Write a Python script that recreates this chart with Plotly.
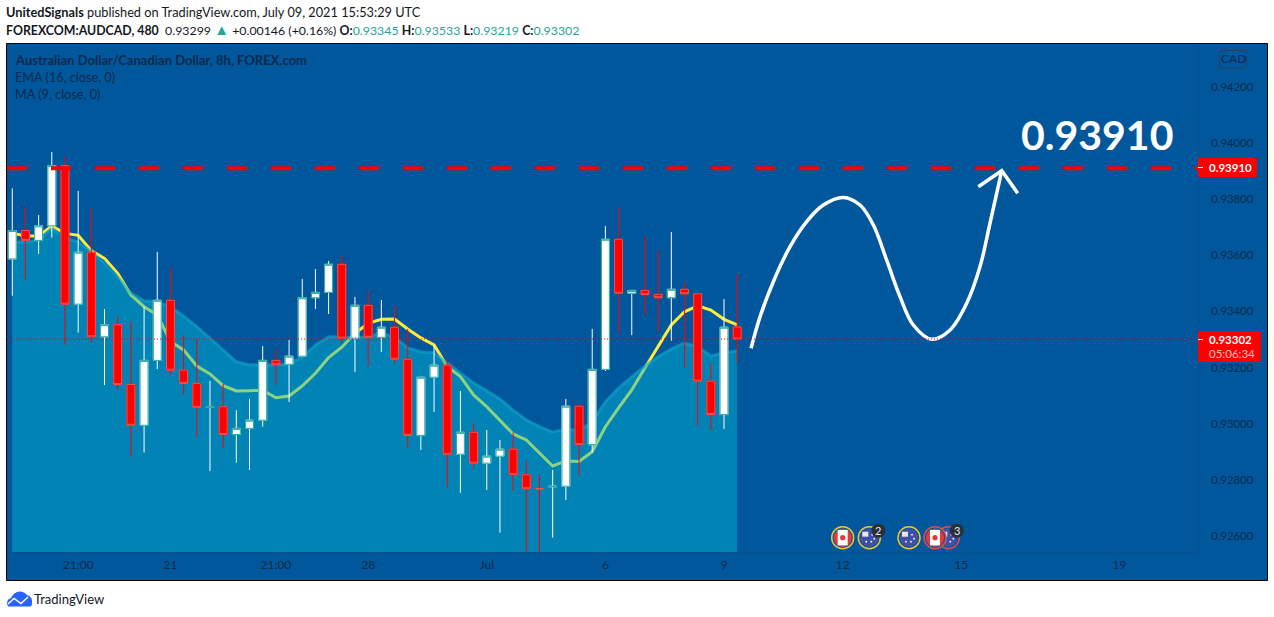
import plotly.graph_objects as go

WIDTH = 1274
HEIGHT = 617
BG_BLUE = '#00579b'
DARK_TEXT = '#0d2a4c'
FONT = 'Lato'

# 8h AUD/CAD candles
opens = [0.93587, 0.93688, 0.93653, 0.93705, 0.93919, 0.93426, 0.93611, 0.93310, 0.93353, 0.93140,
         0.92995, 0.93226, 0.93440, 0.93191, 0.93144, 0.93059, 0.93061, 0.92962, 0.92984, 0.93013,
         0.93226, 0.93212, 0.93241, 0.93449, 0.93468, 0.93568, 0.93305, 0.93422, 0.93308, 0.93344,
         0.93230, 0.92959, 0.93166, 0.93209, 0.92892, 0.92970, 0.92860, 0.92885, 0.92910, 0.92819,
         0.92770, 0.92776, 0.92778, 0.93063, 0.92926, 0.93194, 0.93657, 0.93465, 0.93475, 0.93461,
         0.93449, 0.93479, 0.93463, 0.93152, 0.93033, 0.93345]
highs = [0.93838, 0.93775, 0.93743, 0.93968, 0.93953, 0.93829, 0.93767, 0.93409, 0.93384, 0.93364,
         0.93417, 0.93612, 0.93556, 0.93316, 0.93301, 0.93153, 0.93142, 0.93049, 0.93089, 0.93277,
         0.93267, 0.93299, 0.93516, 0.93551, 0.93580, 0.93600, 0.93452, 0.93473, 0.93441, 0.93420,
         0.93338, 0.93166, 0.93281, 0.93227, 0.93117, 0.93002, 0.92978, 0.92943, 0.92969, 0.92868,
         0.92818, 0.92836, 0.93089, 0.93071, 0.93338, 0.93704, 0.93771, 0.93477, 0.93669, 0.93615,
         0.93683, 0.93506, 0.93466, 0.93216, 0.93444, 0.93533]
lows = [0.93456, 0.93515, 0.93605, 0.93663, 0.93281, 0.93325, 0.93289, 0.93138, 0.93123, 0.92883,
        0.92898, 0.93195, 0.93174, 0.93106, 0.92952, 0.92832, 0.92915, 0.92862, 0.92836, 0.92990,
        0.93138, 0.93078, 0.93239, 0.93409, 0.93391, 0.93284, 0.93185, 0.93206, 0.93256, 0.93216,
        0.92915, 0.92907, 0.93042, 0.92773, 0.92755, 0.92844, 0.92765, 0.92613, 0.92762, 0.92530,
        0.92530, 0.92595, 0.92729, 0.92818, 0.92898, 0.93188, 0.93322, 0.93316, 0.93388, 0.93328,
        0.93296, 0.93200, 0.92994, 0.92978, 0.92982, 0.93219]
closes = [0.93688, 0.93653, 0.93705, 0.93919, 0.93426, 0.93611, 0.93310, 0.93353, 0.93140, 0.92995,
          0.93226, 0.93440, 0.93191, 0.93144, 0.93059, 0.93061, 0.92962, 0.92984, 0.93013, 0.93226,
          0.93212, 0.93241, 0.93449, 0.93468, 0.93568, 0.93305, 0.93422, 0.93308, 0.93344, 0.93230,
          0.92959, 0.93166, 0.93209, 0.92892, 0.92970, 0.92860, 0.92885, 0.92910, 0.92819, 0.92769,
          0.92768, 0.92778, 0.93063, 0.92926, 0.93194, 0.93657, 0.93465, 0.93475, 0.93460, 0.93449,
          0.93479, 0.93463, 0.93152, 0.93033, 0.93344, 0.93302]
ema16 = [0.93647, 0.93647, 0.93654, 0.93697, 0.93662, 0.93648, 0.93613, 0.93573, 0.93524, 0.93466,
         0.93438, 0.93435, 0.93417, 0.93384, 0.93346, 0.93306, 0.93263, 0.93221, 0.93210, 0.93210,
         0.93210, 0.93213, 0.93239, 0.93281, 0.93310, 0.93309, 0.93306, 0.93310, 0.93323, 0.93310,
         0.93270, 0.93257, 0.93253, 0.93217, 0.93181, 0.93146, 0.93118, 0.93089, 0.93049, 0.93014,
         0.92990, 0.92971, 0.92982, 0.92976, 0.93008, 0.93079, 0.93128, 0.93168, 0.93206, 0.93239,
         0.93267, 0.93288, 0.93275, 0.93242, 0.93253, 0.93260]
ma9 = [0.93679, 0.93669, 0.93669, 0.93704, 0.93678, 0.93671, 0.93616, 0.93589, 0.93536, 0.93459,
       0.93417, 0.93388, 0.93293, 0.93263, 0.93206, 0.93178, 0.93136, 0.93117, 0.93118, 0.93120,
       0.93093, 0.93099, 0.93135, 0.93180, 0.93236, 0.93273, 0.93322, 0.93358, 0.93372, 0.93373,
       0.93338, 0.93306, 0.93281, 0.93204, 0.93168, 0.93103, 0.93061, 0.93014, 0.92964, 0.92943,
       0.92896, 0.92850, 0.92868, 0.92866, 0.92901, 0.92990, 0.93057, 0.93121, 0.93199, 0.93275,
       0.93352, 0.93399, 0.93420, 0.93405, 0.93372, 0.93352]
bars = list(range(len(closes)))

# hand drawn forecast path and its arrow head (bar number, price)
path_bars = [56.05, 56.73, 57.74, 59.01, 60.27, 61.53, 63.05, 64.32, 65.33, 66.34, 67.35, 68.36,
             69.76, 71.15, 72.41, 73.42, 74.18, 75.07]
path_prices = [0.93269, 0.93381, 0.93506, 0.93631, 0.93720, 0.93779, 0.93806, 0.93779, 0.93708,
               0.93583, 0.93453, 0.93352, 0.93301, 0.93334, 0.93429, 0.93559, 0.93714, 0.93901]
head_bars = [73.29, 75.07, 76.28]
head_prices = [0.93844, 0.93901, 0.93821]

target_price = 0.93910
last_price = 0.93302
price_range = [0.92544, 0.94352]
bar_range = [-0.40, 89.96]

price_ticks = [0.926, 0.928, 0.930, 0.932, 0.934, 0.936, 0.938, 0.940, 0.942]
time_tick_bars = [5, 12, 20, 27, 36, 45, 54, 63, 72, 84]
time_tick_labels = ['21:00', '21', '21:00', '28', 'Jul', '6', '9', '12', '15', '19']


def px(x):
    return x / WIDTH


def py(y):
    return 1 - y / HEIGHT


def box(x0, y0, x1, y1, fill, line=None, width=0):
    return dict(type='rect', xref='paper', yref='paper', x0=px(x0), x1=px(x1), y0=py(y0), y1=py(y1),
                fillcolor=fill, line=dict(color=line, width=width), layer='above')


def circle(cx, cy, r, fill, line=None, width=0):
    return dict(type='circle', xref='paper', yref='paper', x0=px(cx - r), x1=px(cx + r),
                y0=py(cy + r), y1=py(cy - r), fillcolor=fill,
                line=dict(color=line, width=width), layer='above')


def canada(cx, cy, ring):
    return [circle(cx, cy, 11, BG_BLUE, ring, 1.5),
            circle(cx, cy, 9.2, '#e5383b'),
            box(cx - 5, cy - 7.7, cx + 5, cy + 7.7, '#ffffff'),
            circle(cx, cy, 2.6, '#e5383b')]


def australia(cx, cy, ring):
    dots = [(3, -3), (5, 1), (2, 4), (-3, 4)]
    shapes = [circle(cx, cy, 11, BG_BLUE, ring, 1.5),
              circle(cx, cy, 9.2, '#3f51a5'),
              box(cx - 7, cy - 6, cx - 1, cy - 1, '#e9e3ee')]
    shapes += [circle(cx + dx, cy + dy, 0.9, '#ffffff') for dx, dy in dots]
    return shapes


def label(x, y, text, color=DARK_TEXT, size=13, anchor='left', font=FONT):
    return dict(xref='paper', yref='paper', x=px(x), y=py(y), text=text, showarrow=False,
                xanchor=anchor, yanchor='middle', align=anchor,
                font=dict(family=font, size=size, color=color))


fig = go.Figure()

# MA goes under the EMA area, the area tints it green where they overlap
fig.add_trace(go.Scatter(x=bars, y=ma9, mode='lines', line=dict(color='#ffeb3b', width=3)))
fig.add_trace(go.Scatter(x=bars, y=ema16, mode='lines', fill='tozeroy',
                         fillcolor='rgba(4,182,211,0.46)',
                         line=dict(color='rgba(20,170,205,0.55)', width=3)))

# wicks first, bodies on top with their own outline colour
fig.add_trace(go.Candlestick(x=bars, open=opens, high=highs, low=lows, close=closes,
                             xaxis='x2', yaxis='y2', whiskerwidth=0,
                             increasing=dict(line=dict(color='#ffffff', width=1), fillcolor='#ffffff'),
                             decreasing=dict(line=dict(color='#ff0000', width=1), fillcolor='#ff0000')))
fig.add_trace(go.Candlestick(x=bars, open=opens, close=closes,
                             high=[max(o, c) for o, c in zip(opens, closes)],
                             low=[min(o, c) for o, c in zip(opens, closes)],
                             xaxis='x2', yaxis='y2', whiskerwidth=0,
                             increasing=dict(line=dict(color='#26a69a', width=1), fillcolor='#ffffff'),
                             decreasing=dict(line=dict(color='#ef5350', width=1), fillcolor='#ff0000')))

fig.add_trace(go.Scatter(x=path_bars, y=path_prices, mode='lines', xaxis='x2', yaxis='y2',
                         line=dict(color='#ffffff', width=3.5, shape='spline', smoothing=1)))
fig.add_trace(go.Scatter(x=head_bars, y=head_prices, mode='lines', xaxis='x2', yaxis='y2',
                         line=dict(color='#ffffff', width=3.5)))

shapes = [
    # chart frame
    dict(type='rect', xref='paper', yref='paper', x0=px(6.5), x1=px(1267.5), y0=py(580.5), y1=py(43.5),
         fillcolor=BG_BLUE, line=dict(color='#000000', width=1), layer='below'),
    dict(type='line', xref='paper', yref='y', x0=px(7), x1=px(1198), y0=target_price, y1=target_price,
         line=dict(color='#ff0000', width=4, dash='20px,24px'), layer='above'),
    dict(type='line', xref='paper', yref='y', x0=px(7), x1=px(1198), y0=last_price, y1=last_price,
         line=dict(color='#ff0000', width=1, dash='1px,2px'), layer='above'),
    # price axis flags
    box(1198, 158, 1257, 177, '#ff0000'),
    box(1198, 331, 1261, 362, '#ff0000'),
    box(1198, 167, 1203, 168, '#ffffff'),
    box(1198, 339, 1203, 340, '#ffffff'),
    # currency button
    dict(type='path', xref='paper', yref='paper', layer='above',
         path='M {} {} L {} {} Q {} {} {} {} L {} {} Q {} {} {} {} L {} {} Q {} {} {} {} L {} {} Q {} {} {} {} Z'.format(
             px(1222), py(50.5), px(1244), py(50.5), px(1246.5), py(50.5), px(1246.5), py(53),
             px(1246.5), py(65.5), px(1246.5), py(68), px(1244), py(68),
             px(1222), py(68), px(1219.5), py(68), px(1219.5), py(65.5),
             px(1219.5), py(53), px(1219.5), py(50.5), px(1222), py(50.5)),
         line=dict(color='#2a3f5f', width=1)),
    # TradingView cloud
    dict(type='path', xref='paper', yref='paper', layer='above', fillcolor='#2962ff',
         path='M {} {} Q {} {} {} {} Q {} {} {} {} Q {} {} {} {} Q {} {} {} {} Q {} {} {} {} Z'.format(
             px(8), py(606.5), px(5), py(600), px(11), py(598), px(14), py(591), px(21), py(591.5),
             px(25), py(592), px(27), py(595), px(33), py(597), px(32), py(603), px(32), py(606.5),
             px(30), py(606.5)),
         line=dict(width=0)),
    dict(type='path', xref='paper', yref='paper', layer='above',
         path='M {} {} L {} {} L {} {} L {} {}'.format(px(8), py(604), px(14), py(598.5), px(21), py(603.5),
                                                       px(28), py(597)),
         line=dict(color='#ffffff', width=1.5)),
]
shapes += canada(842.7, 537.7, '#f5c32c')
shapes += australia(869.3, 537.7, '#f5c32c')
shapes += [circle(878.3, 530.7, 7, '#2a2e39')]
shapes += australia(909, 537.7, '#f5c32c')
shapes += australia(948.3, 537.7, '#e5484d')
shapes += canada(935, 537.7, '#e5484d')
shapes += [circle(956.7, 530.7, 7, '#2a2e39')]

teal = '#26a69a'
header = '<b>UnitedSignals</b> published on TradingView.com, July 09, 2021 15:53:29 UTC'
quote = ('<b>FOREXCOM:AUDCAD, 480</b>  0.93299 <span style="color:{t};font-size:15px">▲</span> +0.00146 (+0.16%) '
         '<b>O:</b><span style="color:{t}">0.93345</span> <b>H:</b><span style="color:{t}">0.93533</span> '
         '<b>L:</b><span style="color:{t}">0.93219</span> <b>C:</b><span style="color:{t}">0.93302</span>'
         ).format(t=teal)

annotations = [
    label(4, 12, header, '#131722', size=12.75),
    label(4, 29, quote, '#131722', size=12.35),
    label(13, 60, '<b>Australian Dollar/Canadian Dollar, 8h, FOREX.com</b>'),
    label(13, 77, 'EMA (16, close, 0)', size=12.7),
    label(13, 94, 'MA (9, close, 0)', size=12.7),
    label(1233, 59, 'CAD', size=12, anchor='center'),
    label(1019, 134, '<b>0.93910</b>', '#ffffff', size=41),
    label(1207, 168, '<b>0.93910</b>', '#ffffff', size=11.5),
    label(1207, 339, '<b>0.93302</b>', '#ffffff', size=11.5),
    label(1207, 354, '05:06:34', '#ffc0c0', size=11.5),
    label(878.3, 530.7, '2', '#e0e3eb', size=11, anchor='center'),
    label(956.7, 530.7, '3', '#e0e3eb', size=11, anchor='center'),
    label(32, 599, 'TradingView', '#131722', size=13),
]

common_x = dict(range=bar_range, domain=[px(7), px(1198)], type='linear')
common_y = dict(range=price_range, domain=[py(552), py(44)], type='linear')

fig.update_layout(
    width=WIDTH,
    height=HEIGHT,
    margin=dict(l=0, r=0, t=0, b=0),
    paper_bgcolor='#ffffff',
    plot_bgcolor='rgba(0,0,0,0)',
    showlegend=False,
    boxgap=0.40,
    boxgroupgap=0,
    boxmode='overlay',
    font=dict(family=FONT, color=DARK_TEXT),
    xaxis=dict(common_x, tickmode='array', tickvals=time_tick_bars, ticktext=time_tick_labels,
               showgrid=False, zeroline=False, ticks='outside', ticklen=4, tickcolor='#06508f',
               showline=True, linecolor='#06508f', linewidth=1,
               tickfont=dict(family=FONT, size=12, color=DARK_TEXT), ticklabelstandoff=-2),
    yaxis=dict(common_y, side='right', anchor='free', position=px(1198), tickmode='array',
               tickvals=price_ticks, tickformat='.5f', showgrid=False, zeroline=False,
               ticks='outside', ticklen=4, tickcolor='#06508f', showline=True, linecolor='#06508f',
               tickfont=dict(family=FONT, size=11.3, color=DARK_TEXT), ticklabelstandoff=6),
    xaxis2=dict(common_x, overlaying='x', visible=False, rangeslider=dict(visible=False)),
    yaxis2=dict(common_y, overlaying='y', visible=False),
    shapes=shapes,
    annotations=annotations,
)

fig.write_html('out.html', config={'displayModeBar': False},
               post_script="document.body.style.margin='0';")
